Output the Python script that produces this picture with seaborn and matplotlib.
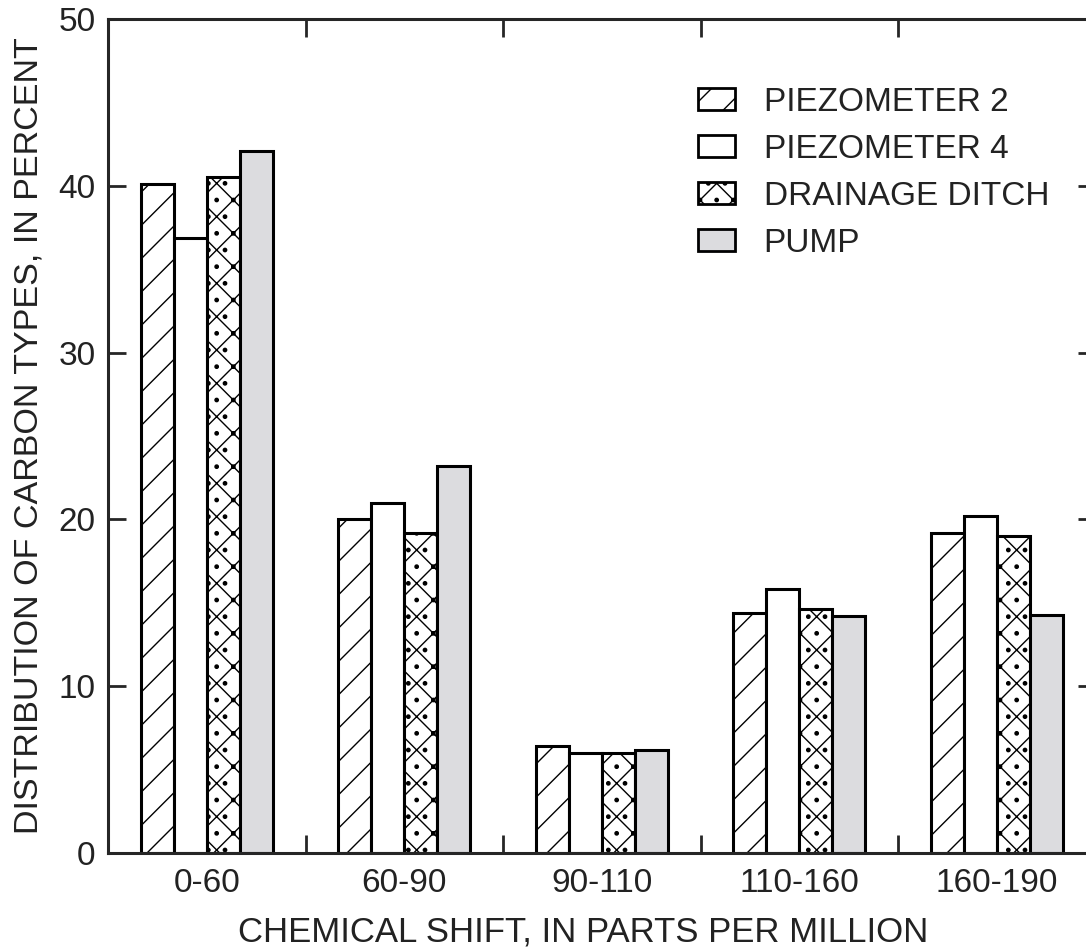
import pandas as pd
import seaborn as sns
import matplotlib.pyplot as plt
from matplotlib.patches import Patch

# data
shifts = ["0-60", "60-90", "90-110", "110-160", "160-190"]
sites = ["PIEZOMETER 2", "PIEZOMETER 4", "DRAINAGE DITCH", "PUMP"]
piezometer_2 = [40.1, 20.0, 6.4, 14.4, 19.2]
piezometer_4 = [36.9, 21.0, 6.0, 15.8, 20.2]
drainage_ditch = [40.5, 19.2, 6.0, 14.6, 19.0]
pump = [42.1, 23.2, 6.2, 14.2, 14.25]

rows = []
for site, vals in zip(sites, [piezometer_2, piezometer_4, drainage_ditch, pump]):
    for s, v in zip(shifts, vals):
        rows.append({"shift": s, "site": site, "percent": v})
df = pd.DataFrame(rows)

sns.set_style("ticks")
plt.rcParams['font.family'] = ['Liberation Sans', 'DejaVu Sans']
plt.rcParams['hatch.linewidth'] = 1.0
plt.rcParams['text.color'] = '#222222'
plt.rcParams['axes.labelcolor'] = '#222222'

fig = plt.figure(figsize=(10.86, 9.51), dpi=100)
ax = fig.add_axes([108 / 1086, 1 - 853 / 951, 987.5 / 1086, (853 - 19) / 951])

fills = ["white", "white", "white", "#dcdcdf"]
hatches = ["/", "", "x.", ""]

sns.barplot(data=df, x="shift", y="percent", hue="site", hue_order=sites,
            palette=fills, width=0.67, saturation=1, legend=False, ax=ax)

# style each series
for cont, fc, h in zip(ax.containers, fills, hatches):
    for bar in cont:
        bar.set_facecolor(fc)
        bar.set_edgecolor("black")
        bar.set_linewidth(2.2)
        bar.set_hatch(h)

ax.set_ylim(0, 50)
ax.set_xlim(-0.5, 4.5)
ax.set_yticks([0, 10, 20, 30, 40, 50])
ax.set_xticks(range(5))
ax.set_xticklabels(shifts)
ax.set_xticks([0.5, 1.5, 2.5, 3.5], minor=True)

for sp in ax.spines.values():
    sp.set_linewidth(2.2)
    sp.set_visible(True)

ax.tick_params(axis="y", which="major", direction="in", length=13, width=2,
               left=True, right=True, labelsize=24, pad=9, labelcolor="#222222")
ax.tick_params(axis="x", which="major", length=0, labelsize=24, pad=11,
               labelcolor="#222222")
ax.tick_params(axis="x", which="minor", direction="in", length=13, width=2,
               bottom=True, top=True)

ax.set_xlabel("CHEMICAL SHIFT, IN PARTS PER MILLION", fontsize=25, labelpad=8)
ax.xaxis.set_label_coords((583 - 108) / 987.5, -0.075)
ax.xaxis.label.set_verticalalignment("top")
ax.set_ylabel("DISTRIBUTION OF CARBON TYPES, IN PERCENT", fontsize=24.6, labelpad=10)

handles = [Patch(facecolor=fc, edgecolor="black", hatch=h, linewidth=2)
           for fc, h in zip(fills, hatches)]
ax.legend(handles, sites, loc="upper left", bbox_to_anchor=(0.567, 0.955),
          frameon=False, fontsize=24, handlelength=1.1, handleheight=0.65,
          labelspacing=0.48, handletextpad=0.87)

fig.savefig("out.png", dpi=100)
